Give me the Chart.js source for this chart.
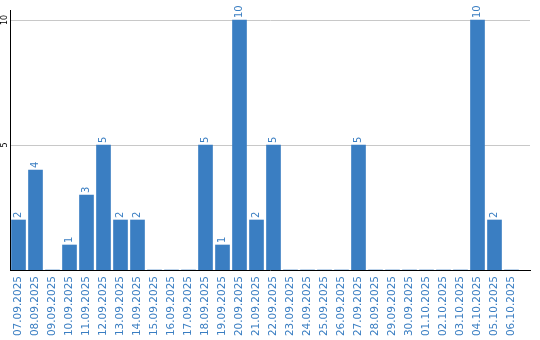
<!DOCTYPE html>
<html>
<head>
<meta charset="utf-8">
<script src="https://cdn.jsdelivr.net/npm/chart.js@4/dist/chart.umd.min.js"></script>
<style>
    html, body { margin: 0; padding: 0; background: #fff; }
    #wrap { width: 540px; height: 340px; position: relative; }
</style>
</head>
<body>
<div id="wrap"><canvas id="chart"></canvas></div>
<script>
const dates = [
    '07.09.2025', '08.09.2025', '09.09.2025', '10.09.2025', '11.09.2025', '12.09.2025',
    '13.09.2025', '14.09.2025', '15.09.2025', '16.09.2025', '17.09.2025', '18.09.2025',
    '19.09.2025', '20.09.2025', '21.09.2025', '22.09.2025', '23.09.2025', '24.09.2025',
    '25.09.2025', '26.09.2025', '27.09.2025', '28.09.2025', '29.09.2025', '30.09.2025',
    '01.10.2025', '02.10.2025', '03.10.2025', '04.10.2025', '05.10.2025', '06.10.2025'
]
const counts = [
    2, 4, 0, 1, 3, 5,
    2, 2, 0, 0, 0, 5,
    1, 10, 2, 5, 0, 0,
    0, 0, 5, 0, 0, 0,
    0, 0, 0, 10, 2, 0
]
const yTicks = [5, 10]

const blue = 'rgb(58, 126, 194)'
const font = 'DejaVu Sans'

// draws the count above every non-zero bar, rotated like the reference
const valueLabels = {
    id: 'valueLabels',
    afterDatasetsDraw(chart) {
        const { ctx } = chart
        const meta = chart.getDatasetMeta(0)
        ctx.save()
        ctx.fillStyle = blue
        ctx.font = '10px "' + font + '"'
        ctx.textAlign = 'left'
        ctx.textBaseline = 'middle'
        meta.data.forEach(function (bar, i) {
            const v = counts[i]
            if (!v) return
            ctx.save()
            ctx.translate(bar.x, bar.y - 2)
            ctx.rotate(-Math.PI / 2)
            ctx.fillText(String(v), 0, 0)
            ctx.restore()
        })
        ctx.restore()
    }
}

const points = dates.map(function (d, i) {
    return { x: i, y: counts[i] }
})

new Chart(document.getElementById('chart'), {
    type: 'bar',
    data: {
        datasets: [
            {
                data: points,
                backgroundColor: blue,
                borderWidth: 0,
                barThickness: 14
            }
        ]
    },
    options: {
        responsive: true,
        maintainAspectRatio: false,
        animation: false,
        layout: { padding: { top: 10, right: 10, left: 0, bottom: 0 } },
        plugins: {
            legend: { display: false },
            tooltip: { enabled: false }
        },
        scales: {
            x: {
                type: 'linear',
                offset: false,
                min: -0.5,
                max: -0.5 + 520 / 17,
                grid: { display: false, drawTicks: false },
                border: { display: true, color: '#000', width: 1 },
                afterBuildTicks: function (scale) {
                    scale.ticks = dates.map(function (d, i) { return { value: i } })
                },
                ticks: {
                    autoSkip: false,
                    minRotation: 90,
                    maxRotation: 90,
                    padding: 6,
                    color: blue,
                    font: { family: font, size: 10.5 },
                    callback: function (v) {
                        return dates[v] || ''
                    }
                },
                afterFit: function (scale) { scale.height = 70 }
            },
            y: {
                min: 0,
                max: 10.4,
                grid: { color: '#c8c8c8', drawTicks: false },
                border: { display: true, color: '#000', width: 1 },
                afterBuildTicks: function (scale) {
                    scale.ticks = yTicks.map(function (v) { return { value: v } })
                },
                ticks: {
                    minRotation: 90,
                    maxRotation: 90,
                    crossAlign: 'center',
                    padding: 0,
                    color: '#000',
                    font: { family: font, size: 8 }
                },
                afterFit: function (scale) { scale.width = 10 }
            }
        }
    },
    plugins: [valueLabels]
})
</script>
</body>
</html>
